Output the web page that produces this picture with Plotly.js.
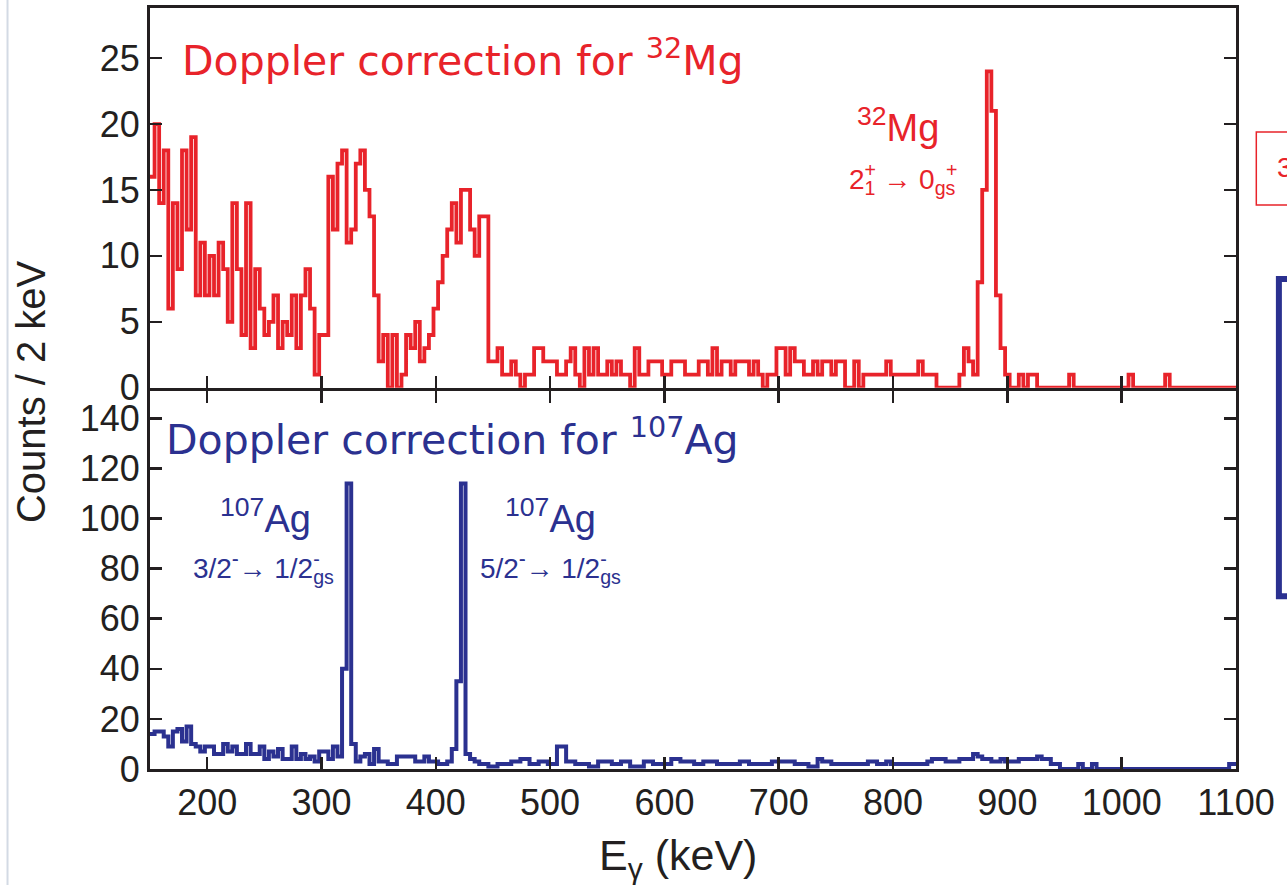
<!DOCTYPE html>
<html>
<head>
<meta charset="utf-8">
<script src="https://cdn.plot.ly/plotly-3.0.1.min.js"></script>
<style>html,body{margin:0;padding:0;background:#fff;}#chart{width:1287px;height:885px;}</style>
</head>
<body>
<div id="chart"></div>
<script>
// Histogram binning (keV)
const binStart = 150;
const binWidth = 4;

// Top panel: Doppler correction for 32Mg (counts per bin)
const mgCounts = [
  16,20,14,18,6,14,9,18,12,19,
  7,11,7,10,7,11,9,5,14,9,
  4,14,3,9,6,4,5,7,3,5,
  4,7,3,7,9,6,1,4,4,16,
  12,17,18,11,12,17,18,15,13,7,
  2,4,0,4,0,1,4,3,5,2,
  3,4,6,8,10,12,14,11,15,15,
  12,10,13,13,2,2,3,1,1,2,
  1,0,1,1,3,3,2,2,2,1,
  1,2,3,1,0,3,1,3,1,1,
  2,1,2,1,1,0,3,1,1,2,
  2,2,1,1,2,2,2,1,1,1,
  2,2,1,3,1,2,2,1,2,2,
  2,1,2,1,0,1,1,3,3,1,
  3,2,2,1,1,2,1,2,2,1,
  2,2,0,0,2,0,1,1,1,1,
  1,2,1,1,1,1,1,1,2,1,
  1,1,0,0,0,0,0,1,3,2,
  1,8,15,24,21,7,3,1,0,0,
  1,0,1,1,0,0,0,0,0,0,
  0,1,0,0,0,0,0,0,0,0,
  0,0,0,0,1,0,0,0,0,0,
  0,0,1,0,0,0,0,0,0,0,
  0,0,0,0,0,0,0,0
];

// Bottom panel: Doppler correction for 107Ag (counts per bin)
const agCounts = [
  14,15,15,13,9,15,16,11,17,10,
  9,7,9,9,6,6,10,7,9,6,
  6,10,6,6,9,4,7,5,8,4,
  4,9,4,6,4,5,3,7,7,4,
  9,5,40,114,10,3,5,6,2,8,
  3,3,2,2,5,5,5,5,3,3,
  5,3,3,2,2,3,8,35,114,6,
  4,3,2,2,1,1,2,2,2,3,
  3,4,4,2,2,3,3,2,2,9,
  9,3,3,2,2,2,1,1,3,3,
  3,2,2,3,3,1,1,1,3,3,
  2,2,2,2,4,4,3,3,3,2,
  2,3,3,3,2,2,2,2,2,3,
  3,2,2,2,2,2,3,3,3,3,
  3,2,2,2,1,1,4,3,3,2,
  2,2,2,2,2,2,2,3,3,2,
  2,3,2,2,2,2,2,2,2,2,
  3,4,4,4,3,3,3,4,4,4,
  6,5,4,4,3,3,4,3,3,3,
  4,4,4,4,5,4,4,2,2,0,
  0,0,0,2,0,0,2,0,0,0,
  0,0,0,0,0,0,0,0,0,0,
  0,0,0,0,0,0,0,0,0,0,
  0,0,0,0,0,0,2,2
];

// Axis ticks
const xTickVals = [200,300,400,500,600,700,800,900,1000,1100];
const mgTickVals = [0,5,10,15,20,25];
const agTickVals = [0,20,40,60,80,100,120,140];

const RED = '#e8232a';
const BLUE = '#2b3190';
const INK = '#231f20';
const CLEAR = 'rgba(0,0,0,0)';

function steps(counts){
  const x = [], y = [];
  counts.forEach((c,i)=>{ x.push(binStart + i*binWidth); y.push(c); });
  x.push(binStart + counts.length*binWidth); y.push(counts[counts.length-1]);
  return {x, y};
}
const mg = steps(mgCounts);
const ag = steps(agCounts);

const traces = [
  {x: mg.x, y: mg.y, xaxis:'x2', yaxis:'y2', type:'scatter', mode:'lines',
   line:{shape:'hv', color:RED, width:3.8}, hoverinfo:'skip'},
  {x: ag.x, y: ag.y, xaxis:'x', yaxis:'y', type:'scatter', mode:'lines',
   line:{shape:'hv', color:BLUE, width:4}, hoverinfo:'skip'}
];

const SANS = 'Liberation Sans, Arial, sans-serif';
const tickFont = {family:SANS, size:36, color:INK};
const axisCommon = {
  showgrid:false, zeroline:false, showline:true, linewidth:3, linecolor:INK,
  ticks:'inside', ticklen:12, tickwidth:2.5, tickcolor:INK, tickfont:tickFont
};

function hide(s){ return '<span style="color:'+CLEAR+'">'+s+'</span>'; }

// stacked sub/superscript labels: visible base+subscripts, and an overlay carrying the superscripts
function stacked(xref, yref, x, y, size, color, baseParts){
  // baseParts: [[base, sub, sup], ...]
  let a = '', b = '';
  baseParts.forEach(p=>{
    const base = p[0], sub = p[1], sup = p[2];
    a += base + (sub ? '<sub>'+sub+'</sub>' : '') + (sup && !sub ? '<sup>'+sup+'</sup>' : '');
    b += hide(base) + (sup ? '<sup>'+sup+'</sup>' : '') + (sub ? hide('<sub>'+sub+'</sub>') : '');
  });
  a += hide('<sup>+</sup>');
  const f = {family:SANS, size:size, color:color};
  return [
    {xref, yref, x, y, xanchor:'left', yanchor:'middle', showarrow:false, text:a, font:f},
    {xref, yref, x, y, xanchor:'left', yanchor:'middle', showarrow:false, text:b, font:f}
  ];
}

const split = 0.501;

const annotations = [
  {xref:'x2', yref:'y2', x:176, y:25, xanchor:'left', yanchor:'middle', showarrow:false,
   text:'Doppler correction for <sup>32</sup>Mg', font:{family:'DejaVu Sans, sans-serif', size:41, color:RED}},
  {xref:'x', yref:'y', x:162, y:132.5, xanchor:'left', yanchor:'middle', showarrow:false,
   text:'Doppler correction for <sup>107</sup>Ag', font:{family:'DejaVu Sans, sans-serif', size:41, color:BLUE}},
  {xref:'x2', yref:'y2', x:804, y:19.9, xanchor:'center', yanchor:'middle', showarrow:false,
   text:'<sup>32</sup>Mg', font:{family:SANS, size:38, color:RED}},
  {xref:'x', yref:'y', x:251, y:101, xanchor:'center', yanchor:'middle', showarrow:false,
   text:'<sup>107</sup>Ag', font:{family:SANS, size:38, color:BLUE}},
  {xref:'x', yref:'y', x:500, y:101, xanchor:'center', yanchor:'middle', showarrow:false,
   text:'<sup>107</sup>Ag', font:{family:SANS, size:38, color:BLUE}},
  {xref:'paper', yref:'paper', x:-0.11, y:0.496, xanchor:'center', yanchor:'middle', showarrow:false,
   textangle:-90, text:'Counts / 2 keV', font:{family:SANS, size:40, color:INK}},
  {xref:'paper', yref:'paper', x:0.486, y:-0.117, xanchor:'center', yanchor:'middle', showarrow:false,
   text:'E<sub>\u03b3</sub> (keV)', font:{family:SANS, size:43, color:INK}},
  {xref:'paper', yref:'paper', x:1.036, y:0.79, xanchor:'left', yanchor:'middle', showarrow:false,
   text:'3', font:{family:SANS, size:28, color:RED}}
].concat(
  stacked('x2','y2', 760, 15.8, 28, RED, [['2','1','+'],[' \u2192 0','gs','+']]),
  stacked('x','y', 186, 80.4, 28, BLUE, [['3/2','','-'],['\u2192 1/2','gs','-']]),
  stacked('x','y', 437, 80.4, 28, BLUE, [['5/2','','-'],['\u2192 1/2','gs','-']])
);

const layout = {
  width:1287, height:885,
  margin:{l:150, r:51, t:8, b:116},
  paper_bgcolor:'#ffffff', plot_bgcolor:'#ffffff',
  showlegend:false,
  xaxis: Object.assign({}, axisCommon, {domain:[0,1], range:[150,1100], anchor:'y',
    tickvals:xTickVals, mirror:'ticks'}),
  yaxis: Object.assign({}, axisCommon, {domain:[0,split-0.004], range:[0,151], anchor:'x',
    tickvals:agTickVals, mirror:'ticks'}),
  xaxis2: Object.assign({}, axisCommon, {domain:[0,1], range:[150,1100], anchor:'y2',
    tickvals:xTickVals, mirror:true, showticklabels:false}),
  yaxis2: Object.assign({}, axisCommon, {domain:[split,1], range:[0,28.8], anchor:'x2',
    tickvals:mgTickVals, mirror:'ticks'}),
  annotations: annotations,
  shapes:[
    {type:'rect', xref:'paper', yref:'paper', x0:1.0187, x1:1.1, y0:0.741, y1:0.837,
     line:{color:RED, width:1.5}, fillcolor:CLEAR},
    {type:'rect', xref:'paper', yref:'paper', x0:1.0395, x1:1.1, y0:0.227, y1:0.644,
     line:{color:BLUE, width:6}, fillcolor:CLEAR},
    {type:'line', xref:'paper', yref:'paper', x0:-0.1312, x1:-0.1312, y0:-0.2, y1:1.02,
     line:{color:'#d3dae4', width:2}}
  ]
};

Plotly.newPlot('chart', traces, layout, {staticPlot:true, displayModeBar:false});
</script>
</body>
</html>
